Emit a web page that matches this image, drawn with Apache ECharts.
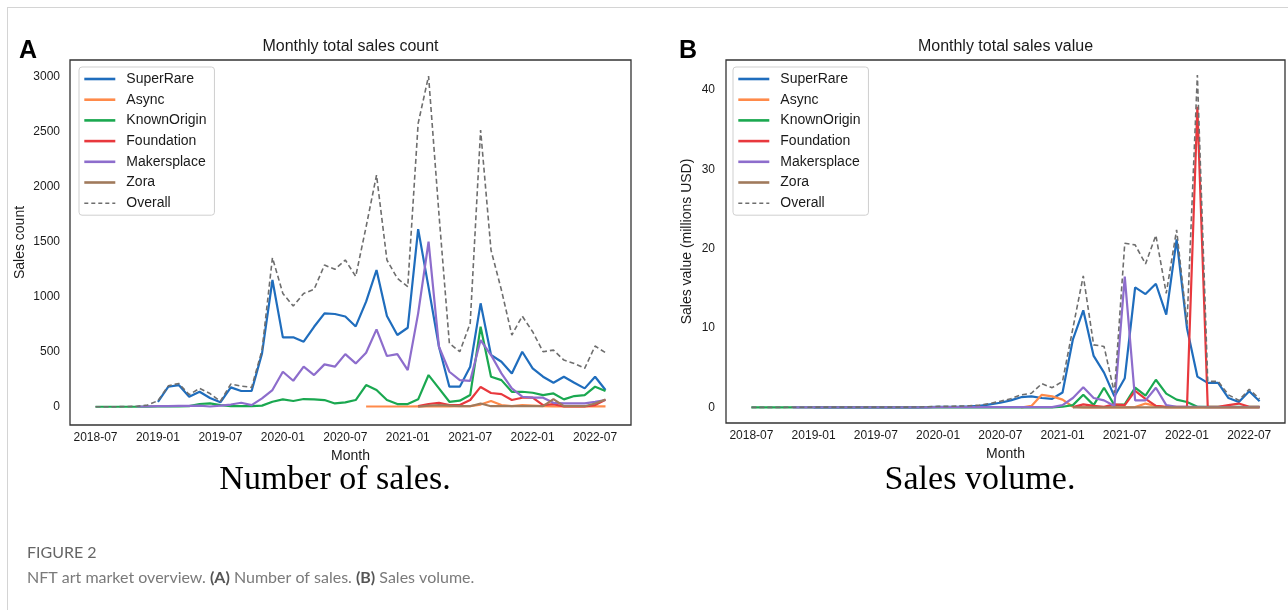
<!DOCTYPE html>
<html>
<head>
<meta charset="utf-8">
<script src="https://cdn.jsdelivr.net/npm/echarts@6/dist/echarts.min.js"></script>
<style>
  html, body { margin:0; padding:0; background:#fff; }
  #frame { position:absolute; left:7px; top:7px; width:1281px; height:603px; border-top:1px solid #d4d4d4; border-left:1px solid #d4d4d4; }
  #chart { position:absolute; left:0; top:0; width:1288px; height:610px; }
</style>
</head>
<body>
<div id="frame"></div>
<div id="chart"></div>
<script>
// ---- Data (index 0 = 2018-07, index 49 = 2022-08) ----
const seriesNames = ['SuperRare', 'Async', 'KnownOrigin', 'Foundation', 'Makersplace', 'Zora', 'Overall'];
const tickIndex = [0, 6, 12, 18, 24, 30, 36, 42, 48];
const tickLabels = ['2018-07', '2019-01', '2019-07', '2020-01', '2020-07', '2021-01', '2021-07', '2022-01', '2022-07'];
const countTicks = [0, 500, 1000, 1500, 2000, 2500, 3000];
const valueTicks = [0, 10, 20, 30, 40];

// Monthly total sales count
const countSuperRare = [null,null,null,null,null,null,45,182,197,91,136,80,40,176,143,143,485,1152,631,631,591,727,849,843,820,730,955,1243,824,652,718,1615,1085,545,182,182,364,940,470,409,303,500,349,273,218,273,218,167,273,152];
const countAsync = [null,null,null,null,null,null,null,null,null,null,null,null,null,null,null,null,null,null,null,null,null,null,null,null,null,null,2,2,2,2,2,3,3,3,3,5,5,20,52,15,5,15,10,5,3,3,3,3,3,3];
const countKnownOrigin = [0,0,0,0,0,1,2,2,3,5,25,30,15,5,5,5,10,45,67,52,70,67,61,30,40,61,197,152,61,24,24,67,288,167,45,55,106,727,273,242,136,136,127,106,121,67,97,106,182,143];
const countFoundation = [null,null,null,null,null,null,null,null,null,null,null,null,null,null,null,null,null,null,null,null,null,null,null,null,null,null,null,null,null,null,null,5,25,36,15,15,61,180,125,115,61,82,82,15,24,2,2,2,15,64];
const countMakersplace = [null,null,null,null,2,3,5,5,8,8,10,2,10,20,36,15,76,152,318,236,364,288,385,364,478,394,491,703,461,479,333,849,1500,545,318,242,236,606,470,303,167,91,82,82,36,30,30,30,45,61];
const countZora = [null,null,null,null,null,null,null,null,null,null,null,null,null,null,null,null,null,null,null,null,null,null,null,null,null,null,null,null,null,null,null,0,10,15,10,5,5,30,5,5,5,5,5,5,70,5,5,5,30,65];
const countOverall = [0,0,0,2,5,15,55,190,212,110,167,120,50,206,188,176,515,1355,1030,915,1030,1067,1288,1249,1334,1185,1636,2106,1334,1167,1091,2576,3006,1750,576,500,758,2515,1424,1061,652,824,682,500,515,424,394,349,552,491];

// Monthly total sales value (millions USD)
const valueSuperRare = [null,null,null,null,null,null,0.02,0.02,0.02,0.02,0.02,0.02,0.02,0.02,0.02,0.02,0.03,0.05,0.1,0.1,0.12,0.15,0.2,0.4,0.6,0.9,1.3,1.4,1.2,1.1,1.9,8.6,12.25,6.5,4.4,1.4,3.7,15.15,14.3,15.6,11.7,21.2,10.0,3.9,3.1,3.1,1.2,0.7,2.05,0.8];
const valueAsync = [null,null,null,null,null,null,null,null,null,null,null,null,null,null,null,null,null,null,null,null,null,null,null,null,null,null,0.0,0.2,1.6,1.4,1.0,0.1,0.02,0.02,0.02,0.02,0.02,0.05,0.5,0.2,0.02,0.02,0.02,0.02,0.02,0.02,0.02,0.02,0.02,0.02];
const valueKnownOrigin = [0.02,0.02,0.02,0.02,0.02,0.02,0.02,0.02,0.02,0.02,0.02,0.02,0.02,0.02,0.02,0.02,0.02,0.02,0.02,0.02,0.02,0.02,0.02,0.02,0.02,0.02,0.02,0.02,0.02,0.02,0.1,0.3,1.6,0.3,2.5,0.3,0.4,2.5,1.5,3.5,1.75,1.0,0.7,0.1,0.1,0.1,0.1,0.1,0.1,0.1];
const valueFoundation = [null,null,null,null,null,null,null,null,null,null,null,null,null,null,null,null,null,null,null,null,null,null,null,null,null,null,null,null,null,null,null,0.05,0.4,0.2,0.1,0.4,0.3,2.1,1.1,0.2,0.1,0.1,0.1,37.9,0.1,0.1,0.3,0.5,0.1,0.1];
const valueMakersplace = [null,null,null,null,0.01,0.01,0.01,0.01,0.01,0.01,0.01,0.01,0.01,0.01,0.01,0.01,0.02,0.03,0.05,0.05,0.05,0.05,0.05,0.05,0.05,0.05,0.05,0.05,0.05,0.05,0.3,1.2,2.55,1.2,0.9,0.2,16.5,0.9,0.9,2.5,0.3,0.1,0.1,0.1,0.05,0.05,0.05,0.05,0.05,0.05];
const valueZora = [null,null,null,null,null,null,null,null,null,null,null,null,null,null,null,null,null,null,null,null,null,null,null,null,null,null,null,null,null,null,null,0.02,0.02,0.02,0.02,0.02,0.02,0.02,0.02,0.02,0.02,0.02,0.02,0.02,0.02,0.02,0.02,0.02,0.02,0.02];
const valueOverall = [0.02,0.02,0.02,0.02,0.03,0.03,0.05,0.05,0.05,0.05,0.05,0.05,0.05,0.05,0.05,0.05,0.07,0.1,0.15,0.15,0.18,0.22,0.3,0.5,0.8,1.1,1.6,1.8,3.0,2.5,3.3,10.0,16.6,7.9,7.7,1.85,20.7,20.5,18.1,21.7,14.4,22.4,10.5,41.9,3.3,3.3,1.6,0.9,2.3,1.1];

// ---- Styling ----
const colors = ['#1f6dbd', '#ff8a4a', '#1aa850', '#e8383d', '#8d6dcc', '#a07a5c', '#6e6e6e'];
const FONT = 'Liberation Sans, Arial, sans-serif';
const TXT = '#1a1a1a';

function pairs(arr) {
  const out = [];
  arr.forEach((v, i) => { if (v !== null) out.push([i, v]); });
  return out;
}
function tickLabel(v) {
  const k = tickIndex.indexOf(Math.round(v));
  return k >= 0 ? tickLabels[k] : '';
}

const countData = [countSuperRare, countAsync, countKnownOrigin, countFoundation, countMakersplace, countZora, countOverall];
const valueData = [valueSuperRare, valueAsync, valueKnownOrigin, valueFoundation, valueMakersplace, valueZora, valueOverall];

function makeSeries(dataSets, axisIdx) {
  return dataSets.map((d, k) => {
    const overall = k === 6;
    return {
      name: seriesNames[k],
      type: 'line',
      xAxisIndex: axisIdx,
      yAxisIndex: axisIdx,
      symbol: 'none',
      showSymbol: false,
      smooth: false,
      data: pairs(d),
      lineStyle: overall ? { width: 1.6, color: colors[k], type: [5, 3] } : { width: 2.2, color: colors[k] },
      itemStyle: { color: colors[k] },
      z: overall ? 3 : 2,
      animation: false
    };
  });
}

function xAxisCfg(gi) {
  return {
    type: 'value', gridIndex: gi, min: -2.45, max: 51.45,
    splitLine: { show: false }, axisLine: { show: false }, axisTick: { show: false },
    axisLabel: { customValues: tickIndex, formatter: tickLabel, color: TXT, fontSize: 12, fontFamily: FONT, margin: 7 },
    name: 'Month', nameLocation: 'middle', nameGap: 23,
    nameTextStyle: { fontSize: 14, color: TXT, fontFamily: FONT }
  };
}

function legendCfg(left) {
  return {
    orient: 'vertical', left: left, top: 67,
    itemWidth: 31, itemHeight: 14, itemGap: 6.7,
    padding: [5, 8, 5, 4],
    borderColor: '#cfcfcf', borderWidth: 1, borderRadius: 3, backgroundColor: '#ffffff',
    itemStyle: { opacity: 0 },
    textStyle: { fontSize: 14, color: TXT, fontFamily: FONT, padding: [0, 0, 0, 6] },
    data: seriesNames.map((n, k) => ({
      name: n,
      lineStyle: k === 6 ? { width: 1.6, type: [4, 3], color: colors[k] } : { width: 2.6, color: colors[k] }
    })),
    selectedMode: false, z: 10
  };
}

const chart = echarts.init(document.getElementById('chart'), null, { renderer: 'canvas' });
const option = {
  backgroundColor: 'transparent',
  animation: false,
  grid: [
    { left: 70, top: 60, width: 561, height: 365, show: true, borderColor: '#333', borderWidth: 1.3, backgroundColor: 'transparent' },
    { left: 726, top: 60, width: 559, height: 363, show: true, borderColor: '#333', borderWidth: 1.3, backgroundColor: 'transparent' }
  ],
  xAxis: [xAxisCfg(0), xAxisCfg(1)],
  yAxis: [
    {
      type: 'value', gridIndex: 0, min: -166, max: 3152,
      splitLine: { show: false }, axisLine: { show: false }, axisTick: { show: false },
      axisLabel: { customValues: countTicks, formatter: v => String(v), color: TXT, fontSize: 12, fontFamily: FONT, margin: 10 },
      name: 'Sales count', nameLocation: 'middle', nameGap: 43, nameRotate: 90,
      nameTextStyle: { fontSize: 14, color: TXT, fontFamily: FONT }
    },
    {
      type: 'value', gridIndex: 1, min: -1.95, max: 43.8,
      splitLine: { show: false }, axisLine: { show: false }, axisTick: { show: false },
      axisLabel: { customValues: valueTicks, formatter: v => String(v), color: TXT, fontSize: 12, fontFamily: FONT, margin: 11 },
      name: 'Sales value (millions USD)', nameLocation: 'middle', nameGap: 32, nameRotate: 90,
      nameTextStyle: { fontSize: 14, color: TXT, fontFamily: FONT }
    }
  ],
  legend: [legendCfg(79), legendCfg(733)],
  series: makeSeries(countData, 0).concat(makeSeries(valueData, 1)),
  graphic: [
    { type: 'text', x: 19, y: 51, style: { text: 'A', font: 'bold 25px ' + FONT, fill: '#000', textAlign: 'left', textVerticalAlign: 'middle' } },
    { type: 'text', x: 679, y: 51, style: { text: 'B', font: 'bold 25px ' + FONT, fill: '#000', textAlign: 'left', textVerticalAlign: 'middle' } },
    { type: 'text', x: 350.5, y: 47, style: { text: 'Monthly total sales count', font: '16px ' + FONT, fill: TXT, textAlign: 'center', textVerticalAlign: 'middle' } },
    { type: 'text', x: 1005.5, y: 47, style: { text: 'Monthly total sales value', font: '16px ' + FONT, fill: TXT, textAlign: 'center', textVerticalAlign: 'middle' } },
    { type: 'text', x: 335, y: 480, style: { text: 'Number of sales.', font: '34px Liberation Serif, Times New Roman, serif', fill: '#000', textAlign: 'center', textVerticalAlign: 'middle' } },
    { type: 'text', x: 980, y: 480, style: { text: 'Sales volume.', font: '34px Liberation Serif, Times New Roman, serif', fill: '#000', textAlign: 'center', textVerticalAlign: 'middle' } },
    { type: 'text', x: 27, y: 553, style: { text: 'FIGURE 2', font: '16px Lato, Open Sans, sans-serif', fill: '#666', textAlign: 'left', textVerticalAlign: 'middle' } },
    { type: 'text', x: 27, y: 578, style: {
        text: '{n|NFT art market overview. }{b|(A)}{n| Number of sales. }{b|(B)}{n| Sales volume.}',
        textAlign: 'left', textVerticalAlign: 'middle',
        rich: {
          n: { font: '16px Lato, Open Sans, sans-serif', fill: '#7a7a7a', color: '#7a7a7a' },
          b: { font: 'bold 16px Lato, Open Sans, sans-serif', fill: '#555', color: '#555' }
        }
      } }
  ]
};
chart.setOption(option);
</script>
</body>
</html>
